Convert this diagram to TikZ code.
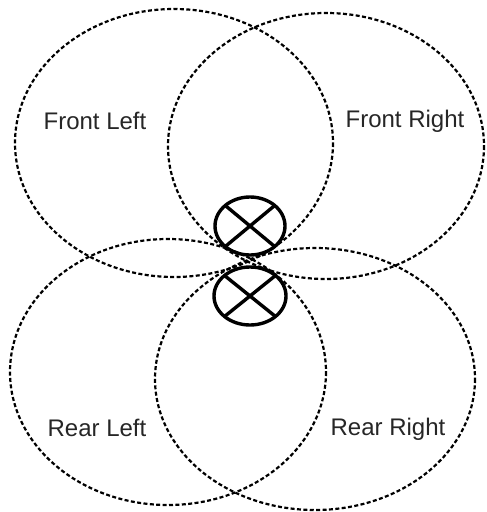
\documentclass[tikz,border=0pt]{standalone}
\usepackage{fontspec}
\setmainfont{Liberation Sans}
\usepackage{tikz}
\usetikzlibrary{positioning}

\begin{document}
\begin{tikzpicture}[
    x=1pt, y=-1pt,
    zone/.style={draw, dashed, dash pattern=on 4pt off 2.4pt, line width=2.2pt},
    lamp/.style={draw, line width=3.4pt},
    label/.style={font=\fontsize{24}{28}\selectfont, text=black!85, inner sep=0pt}
  ]
    \useasboundingbox (0,0) rectangle (487,512);

    % beam zones
    \draw[zone] (174,143) ellipse [x radius=159, y radius=134];
    \draw[zone] (326,146) ellipse [x radius=158, y radius=133];
    \draw[zone] (168,372) ellipse [x radius=158, y radius=133];
    \draw[zone] (315,379) ellipse [x radius=160, y radius=131];

    \node[label] (frontleft) at (95,121) {Front Left};
    \node[label] (frontright) at (405,121) {Front Right};
    \node[label] (rearleft) at (97,428) {Rear Left};
    \node[label] (rearright) at (388,429) {Rear Right};

    % lamps
    \draw[lamp] (250,226) ellipse [x radius=35, y radius=29];
    \draw[lamp] (225.3,205.5) -- (274.7,246.5);
    \draw[lamp] (225.3,246.5) -- (274.7,205.5);

    \draw[lamp] (250,296) ellipse [x radius=36, y radius=29];
    \draw[lamp] (224.5,275.5) -- (275.5,316.5);
    \draw[lamp] (224.5,316.5) -- (275.5,275.5);
  \end{tikzpicture}
\end{document}
